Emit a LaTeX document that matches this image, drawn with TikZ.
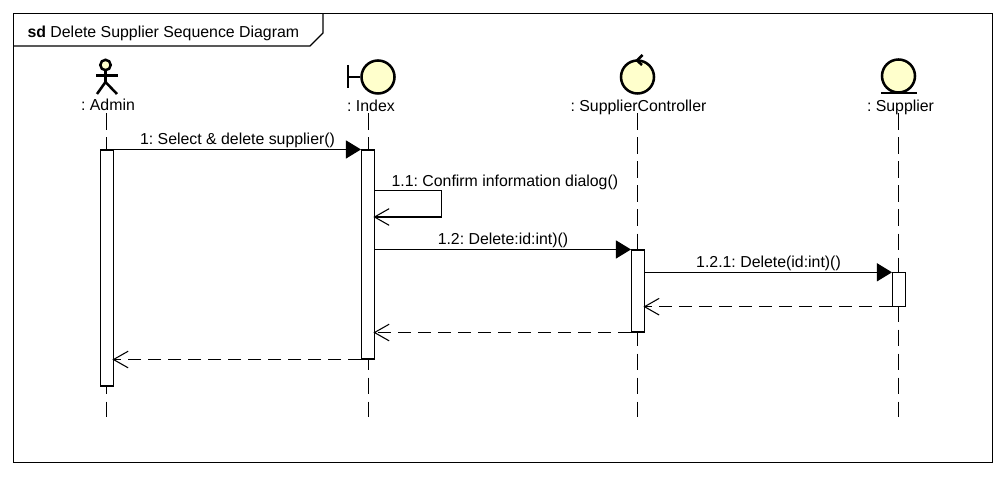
\documentclass[tikz,border=0pt]{standalone}
\usepackage{fontspec}
\setmainfont{Liberation Sans}
\usepackage{xcolor}
\usetikzlibrary{arrows.meta,positioning}
\definecolor{lifefill}{HTML}{FFFFCC}
\frenchspacing

\begin{document}
\begin{tikzpicture}[x=0.75pt,y=-0.75pt,font=\fontsize{11.9}{14}\selectfont,line width=0.8pt,
	figure/.style={line width=1.9pt,draw=black,line cap=butt},
	head/.style={circle,draw=black,fill=lifefill,line width=1.9pt,minimum size=24.75pt,inner sep=0pt},
	actorhead/.style={circle,draw=black,fill=lifefill,line width=1.9pt,minimum size=7.8pt,inner sep=0pt},
	lifelabel/.style={inner sep=0pt,anchor=base},
	lifeline/.style={dash pattern=on 12.4pt off 5.6pt},
	activation/.style={rectangle,draw=black,fill=white,minimum width=9.75pt,inner sep=0pt},
	msglabel/.style={above=-0.5pt,inner sep=1pt},
	call/.style={-{Triangle[length=11.25pt,width=13.5pt]}},
	selfcall/.style={-{Straight Barb[length=11pt,width=12.5pt]},shorten >=-1.2pt},
	reply/.style={selfcall,dash pattern=on 10pt off 5pt}]
	\useasboundingbox (0,0) rectangle (1005,477);
	\fill[white] (0,0) rectangle (1005,477);

	% frame and tab
	\node[rectangle,draw=black,minimum width=734.25pt,minimum height=336.9pt,inner sep=0pt] (frame) at (503.25,238.25) {};
	\coordinate (tabright) at (323,33);
	\coordinate (tabcorner) at (310,46);
	\draw (frame.north west -| tabright) -- (tabright) -- (tabcorner) -- (frame.west |- tabcorner);
	\node[inner sep=0pt,anchor=base west] (title) at (27,37.5) {\textbf{sd} Delete Supplier Sequence Diagram};

	% lifeline heads
	\node[actorhead] (adminhead) at (105.5,65) {};
	\coordinate (adminhip) at (105.5,82);
	\coordinate (adminarml) at (96,75.5);
	\coordinate (adminarmr) at (118,75.5);
	\coordinate (adminlegl) at (97,94);
	\coordinate (adminlegr) at (117,94);
	\draw[figure] (adminhead) -- (adminhip);
	\draw[figure] (adminarml) -- (adminarmr);
	\draw[figure] (adminlegl) -- (adminhip) -- (adminlegr);

	\node[head] (indexhead) at (378,77) {};
	\coordinate (indexbart) at (348,65);
	\coordinate (indexbarb) at (348,88);
	\draw[figure] (indexbart) -- (indexbarb);
	\draw[figure] (indexbart |- indexhead) -- (indexhead);

	\node[head] (ctrlhead) at (637.5,77) {};
	\coordinate (ctrltip) at (637,60.5);
	\coordinate (ctrlbarbt) at (642.5,55);
	\coordinate (ctrlbarbb) at (642,65);
	\draw[figure] (ctrlbarbt) -- (ctrltip) -- (ctrlbarbb);

	\node[head] (supplierhead) at (898.5,76) {};
	\coordinate (supplierbarl) at (881,93);
	\coordinate (supplierbarr) at (916.5,93);
	\draw[figure] (supplierbarl) -- (supplierbarr);

	\node[lifelabel] (adminlabel) at (108,110.5) {: Admin};
	\node[lifelabel] (indexlabel) at (371,111.5) {: Index};
	\node[lifelabel] (ctrllabel) at (638.5,111.5) {: SupplierController};
	\node[lifelabel] (supplierlabel) at (900.5,111.5) {: Supplier};

	% lifelines
	\foreach \name/\xpos in {admin/106.5,index/368.3,ctrl/637.5,supplier/898.5} {
		\coordinate (\name top) at (\xpos,113.5);
		\coordinate (\name end) at (\xpos,417);
		\draw[lifeline] (\name top) -- (\name end);
	}

	% activations
	\node[activation,minimum height=177pt] (actadmin) at (107,268) {};
	\node[activation,minimum height=156.75pt] (actindex) at (368,254.5) {};
	\node[activation,minimum height=61.5pt] (actctrl) at (638,291) {};
	\node[activation,minimum height=25pt] (actsupplier) at (899,289.5) {};

	% messages
	\coordinate (selfstart) at (actindex.east |- 0,190.6);
	\coordinate (selfright) at (441.5,190.6);
	\coordinate (selfback) at (441.5,217);
	\coordinate (selfend) at (actindex.east |- 0,217);
	\coordinate (deletestart) at (actindex.east |- actctrl.north);
	\coordinate (ctrlcall) at (actctrl.east |- actsupplier.north);
	\coordinate (supplierback) at (actctrl.east |- actsupplier.south);
	\coordinate (ctrlback) at (actindex.east |- actctrl.south);
	\coordinate (indexback) at (actadmin.east |- actindex.south);

	\draw[call] (actadmin.north east) -- node[msglabel] (msgselect) {1: Select \& delete supplier()} (actindex.north west);
	\draw[selfcall] (selfstart) -- (selfright) -- (selfback) -- (selfend);
	\node[inner sep=0pt,anchor=base west] (msgconfirm) at (391,187) {1.1: Confirm information dialog()};
	\draw[call] (deletestart) -- node[msglabel] (msgdelete) {1.2: Delete:id:int)()} (actctrl.north west);
	\draw[call] (ctrlcall) -- node[msglabel] (msgsupplier) {1.2.1: Delete(id:int)()} (actsupplier.north west);
	\draw[reply] (actsupplier.south west) -- (supplierback);
	\draw[reply] (actctrl.south west) -- (ctrlback);
	\draw[reply] (actindex.south west) -- (indexback);
\end{tikzpicture}
\end{document}
